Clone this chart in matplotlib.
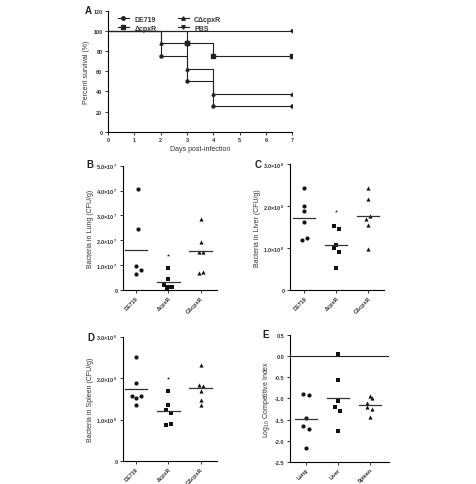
import matplotlib
matplotlib.use('Agg')
import matplotlib.pyplot as plt
from matplotlib.lines import Line2D

plt.rcParams['font.family'] = ['Liberation Sans', 'DejaVu Sans']
plt.rcParams['font.weight'] = 'bold'
plt.rcParams['mathtext.default'] = 'regular'
plt.rcParams['axes.linewidth'] = 0.8
TXT = '#333333'

# --- Panel A: survival (step curves), percent alive on each day
days = [0, 1, 2, 3, 4, 5, 6, 7]
surv_de719 = [100, 100, 75, 50, 25, 25, 25, 25]
surv_dcpxr = [100, 100, 100, 87.5, 75, 75, 75, 75]
surv_cdcpxr = [100, 100, 87.5, 62.5, 37.5, 37.5, 37.5, 37.5]
surv_pbs = [100, 100, 100, 100, 100, 100, 100, 100]

strains = ['DE719', '\u0394cpxR', 'C\u0394cpxR']

# --- Panel B: lung (x10^7 CFU/g)
lung_de719 = [4.07, 2.45, 0.95, 0.65, 0.80]
lung_dcpxr = [1.42, 0.90, 0.44, 0.20, 0.12, 0.04, 0.13]
lung_cdcpxr = [2.84, 1.92, 1.51, 1.51, 0.67, 0.74]
lung_mean = [1.62, 0.31, 1.55]

# --- Panel C: liver (x10^8 CFU/g)
liver_de719 = [2.44, 2.01, 1.87, 1.61, 1.25, 1.20]
liver_dcpxr = [1.87, 1.52, 1.46, 1.07, 1.00, 0.91, 0.52]
liver_cdcpxr = [2.44, 2.16, 1.76, 1.68, 1.55, 0.98]
liver_mean = [1.72, 1.08, 1.77]

# --- Panel D: spleen (x10^6 CFU/g)
spleen_de719 = [2.51, 1.89, 1.56, 1.58, 1.52, 1.36]
spleen_dcpxr = [2.01, 1.69, 1.34, 1.23, 1.16, 0.90, 0.87]
spleen_cdcpxr = [2.31, 1.84, 1.82, 1.68, 1.48, 1.35]
spleen_mean = [1.74, 1.20, 1.76]

# --- Panel E: log10 competitive index
organs = ['Lung', 'Liver', 'Spleen']
ci_lung = [-0.90, -0.93, -1.47, -1.66, -1.73, -2.18]
ci_liver = [0.04, -0.56, -1.06, -1.20, -1.30, -1.77]
ci_spleen = [-0.95, -1.00, -1.12, -1.20, -1.24, -1.43]
ci_mean = [-1.48, -0.98, -1.15]

# horizontal jitter used to separate overlapping dots (style only)
jit_b = [[0.07, 0.07, 0.0, 0.0, 0.15], [0.0, 0.0, 0.0, -0.12, 0.0, -0.05, 0.1],
         [0.0, 0.0, -0.07, 0.07, -0.07, 0.07]]
jit_c = [[0.0, 0.0, 0.0, 0.0, 0.07, -0.07], [0.0, -0.07, 0.08, 0.0, -0.07, 0.08, 0.0],
         [0.0, 0.0, 0.07, -0.07, 0.0, 0.0]]
jit_d = [[0.0, 0.0, -0.13, 0.15, 0.0, 0.0], [0.0, 0.0, 0.0, -0.07, 0.07, 0.07, -0.07],
         [0.0, -0.06, 0.07, 0.0, 0.0, 0.0]]
jit_e = [[-0.08, 0.1, 0.0, -0.08, 0.1, 0.0], [0.0, 0.0, 0.0, -0.08, 0.08, 0.0],
         [0.0, 0.08, -0.08, -0.08, 0.08, 0.0]]

fig = plt.figure(figsize=(4.76, 4.85), dpi=100)


def style_axes(ax):
    for s in ['top', 'right']:
        ax.spines[s].set_visible(False)
    ax.tick_params(direction='out', length=2.5, width=0.7, labelsize=4.0,
                   colors=TXT, pad=1.5)


def panel_label(x, y, s):
    fig.text(x / 476, 1 - y / 485, s, fontsize=7, fontweight='bold', color='#222222',
             ha='center', va='center')


# ---------------- A
axA = fig.add_axes([108 / 476, 1 - 132.7 / 485, (292.3 - 108) / 476, (132.7 - 11.7) / 485])
style_axes(axA)
for vals, m in [(surv_de719, 'o'), (surv_dcpxr, 's'), (surv_cdcpxr, '^'), (surv_pbs, 'v')]:
    axA.step(days, vals, where='post', color='#222222', lw=0.8)
    xs = [d for i, d in enumerate(days) if i > 0 and vals[i] != vals[i - 1]] + [days[-1]]
    ys = [vals[days.index(d)] for d in xs]
    axA.plot(xs, ys, m, color='#222222', ms=2.2, ls='none')
axA.plot([3], [87.5], 's', color='#222222', ms=3.5)
axA.set_xlim(0, 7)
axA.set_ylim(0, 120)
axA.set_xticks(range(8))
axA.set_yticks(range(0, 121, 20))
axA.set_xlabel('Days post-infection', fontsize=5, color=TXT, labelpad=2)
axA.set_ylabel('Percent survival (%)', fontsize=5, color=TXT, labelpad=2)
handles = [Line2D([], [], color='#222222', lw=0.8, marker=m, ms=2.5) for m in ['o', 's', '^', 'v']]
labels = ['DE719', '\u0394cpxR', 'C\u0394cpxR', 'PBS']
axA.legend(handles, labels, ncol=2, frameon=False,
           fontsize=5, loc='upper left', bbox_to_anchor=(0.02, 1.01), handlelength=1.6,
           columnspacing=3.0, labelspacing=0.3, handletextpad=0.8, labelcolor=TXT)
panel_label(88, 11, 'A')


def dot_panel(rect, groups, jits, means, markers, ylim, yticks, yticklabels, ylabel, xlabels, xlim):
    ax = fig.add_axes(rect)
    style_axes(ax)
    for i, (vals, jit, m) in enumerate(zip(groups, jits, markers)):
        for j, (v, dx) in enumerate(zip(vals, jit)):
            mk, sz = m, 9
            if m == 's' and j == 0 and len(vals) == 7:
                mk, sz = '*', 5
            ax.scatter(i + 1 + dx, v, marker=mk, s=sz, color='#111111', lw=0)
        ax.plot([i + 1 - 0.35, i + 1 + 0.35], [means[i], means[i]], color='#333333', lw=0.9)
    ax.set_xlim(*xlim)
    ax.set_ylim(*ylim)
    ax.set_yticks(yticks)
    ax.set_yticklabels(yticklabels)
    ax.set_xticks([1, 2, 3])
    ax.set_xticklabels(xlabels, rotation=45, ha='right', rotation_mode='anchor', fontsize=4.0)
    ax.tick_params(axis='x', pad=1.0)
    ax.set_ylabel(ylabel, fontsize=5, color=TXT, labelpad=2)
    return ax


def sci(v, e):
    return [('0' if x == 0 else '%.1f$\\times$10$^{%d}$' % (x, e)) for x in v]


# ---------------- B
dot_panel([123 / 476, 1 - 291 / 485, 94 / 476, (291 - 166.7) / 485],
          [lung_de719, lung_dcpxr, lung_cdcpxr], jit_b, lung_mean, ['o', 's', '^'],
          (0, 5), [0, 1, 2, 3, 4, 5], sci([0, 1, 2, 3, 4, 5], 7),
          'Bacteria in Lung (CFU/g)', strains, (0.6, 3.5))
panel_label(90, 165, 'B')

# ---------------- C
dot_panel([290 / 476, 1 - 291 / 485, 94 / 476, (291 - 165) / 485],
          [liver_de719, liver_dcpxr, liver_cdcpxr], jit_c, liver_mean, ['o', 's', '^'],
          (0, 3), [0, 1, 2, 3], sci([0, 1, 2, 3], 8),
          'Bacteria in Liver (CFU/g)', strains, (0.55, 3.5))
panel_label(258, 165, 'C')

# ---------------- D
dot_panel([123 / 476, 1 - 462 / 485, 94 / 476, (462 - 337.7) / 485],
          [spleen_de719, spleen_dcpxr, spleen_cdcpxr], jit_d, spleen_mean, ['o', 's', '^'],
          (0, 3), [0, 1, 2, 3], sci([0, 1, 2, 3], 6),
          'Bacteria in Spleen (CFU/g)', strains, (0.6, 3.5))
panel_label(91, 338, 'D')

# ---------------- E
axE = dot_panel([290 / 476, 1 - 463 / 485, 99 / 476, (463 - 335.7) / 485],
                [ci_lung, ci_liver, ci_spleen], jit_e, ci_mean, ['o', 's', '^'],
                (-2.5, 0.5), [-2.5, -2.0, -1.5, -1.0, -0.5, 0.0, 0.5],
                ['-2.5', '-2.0', '-1.5', '-1.0', '-0.5', '0.0', '0.5'],
                'Log$_{10}$ Competitive Index', organs, (0.5, 3.6))
axE.axhline(0, color='#222222', lw=0.8)
panel_label(266, 335, 'E')

fig.savefig('out.png', dpi=100)
